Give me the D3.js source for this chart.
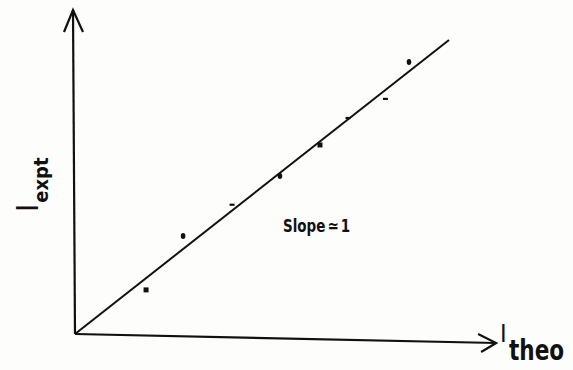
<!DOCTYPE html>
<html>
<head>
<meta charset="utf-8">
<script src="https://cdn.jsdelivr.net/npm/d3@7"></script>
<style>
  html, body { margin: 0; padding: 0; background: #fdfdfc; }
  svg { display: block; }
</style>
</head>
<body>
<svg id="chart" width="573" height="370"></svg>
<script>
// Data (normalised units: theoretical vs experimental intensity)
const theoValues = [0.19, 0.289, 0.42, 0.548, 0.655, 0.73, 0.83, 0.893];
const exptValues = [0.15, 0.333, 0.44, 0.537, 0.643, 0.735, 0.80, 0.925];
const markerShapes = ["square", "dot", "dash", "dot", "square", "dash", "dash", "dot"];
const fitLine = [0, 1];           // slope = 1 line from origin
const axisLabels = { x: "theo", y: "expt", base: "I" };
const annotation = "Slope";

const svg = d3.select("#chart");
const W = 573, H = 370;
svg.append("rect").attr("width", W).attr("height", H).attr("fill", "#fdfdfc");

const x = d3.scaleLinear().domain([0, 1]).range([75, 449]);
const y = d3.scaleLinear().domain([0, 1]).range([334, 40]);

const axisX = 1.126, axisY = 1.102;
const ink = "#111";

// Axes (slightly skewed like the scanned original)
svg.append("line")
  .attr("x1", x(0)).attr("y1", y(0))
  .attr("x2", x(axisX)).attr("y2", y(0) + 9)
  .attr("stroke", ink).attr("stroke-width", 2.2);
svg.append("line")
  .attr("x1", x(0)).attr("y1", y(0))
  .attr("x2", x(0) - 2).attr("y2", y(axisY))
  .attr("stroke", ink).attr("stroke-width", 2.2);

// Arrowheads
const yTipX = x(0) - 2, yTipY = y(axisY);
svg.append("path")
  .attr("d", `M${yTipX - 9},${yTipY + 22} L${yTipX},${yTipY} L${yTipX + 10},${yTipY + 22}`)
  .attr("fill", "none").attr("stroke", ink).attr("stroke-width", 2.2)
  .attr("stroke-linejoin", "miter");
const xTipX = x(axisX), xTipY = y(0) + 9;
svg.append("path")
  .attr("d", `M${xTipX - 18},${xTipY - 9} L${xTipX},${xTipY} L${xTipX - 15},${xTipY + 9}`)
  .attr("fill", "none").attr("stroke", ink).attr("stroke-width", 2.2)
  .attr("stroke-linejoin", "miter");

// Fit line
svg.append("line")
  .attr("x1", x(fitLine[0])).attr("y1", y(fitLine[0]))
  .attr("x2", x(fitLine[1])).attr("y2", y(fitLine[1]))
  .attr("stroke", ink).attr("stroke-width", 2);

// Data points
const pts = theoValues.map((t, i) => ({ t, e: exptValues[i], s: markerShapes[i] }));
svg.selectAll("g.pt").data(pts).enter().append("g").attr("class", "pt")
  .each(function(d) {
    const g = d3.select(this);
    const cx = x(d.t), cy = y(d.e);
    if (d.s === "square") {
      g.append("rect").attr("x", cx - 2.5).attr("y", cy - 2.5).attr("width", 5).attr("height", 5).attr("fill", ink);
    } else if (d.s === "dot") {
      g.append("ellipse").attr("cx", cx).attr("cy", cy).attr("rx", 2.3).attr("ry", 3).attr("fill", ink);
    } else {
      g.append("rect").attr("x", cx - 2.5).attr("y", cy - 1).attr("width", 5).attr("height", 2.2).attr("fill", ink);
    }
  });

// Y label
const yl = svg.append("text")
  .attr("transform", "translate(38,212) rotate(-90)")
  .attr("font-family", "'DejaVu Sans Condensed', 'DejaVu Sans', sans-serif")
  .attr("fill", ink);
yl.append("tspan").attr("font-size", 31).text(axisLabels.base);
yl.append("tspan").attr("font-size", 20).attr("font-weight", "bold").attr("dy", 10).attr("dx", 1).text(axisLabels.y);

// X label
svg.append("text")
  .attr("x", 500).attr("y", 342)
  .attr("font-family", "'DejaVu Sans Condensed', 'DejaVu Sans', sans-serif")
  .attr("font-size", 25).attr("fill", ink)
  .text(axisLabels.base);
svg.append("text")
  .attr("transform", "translate(509,360) scale(1,1.15)")
  .attr("font-family", "'DejaVu Sans Condensed', 'DejaVu Sans', sans-serif")
  .attr("font-size", 24).attr("font-weight", "bold").attr("fill", ink)
  .text(axisLabels.x);

// Annotation
const an = svg.append("text")
  .attr("transform", "translate(283,232) scale(1,1.2)")
  .attr("font-family", "'DejaVu Sans Condensed', 'DejaVu Sans', sans-serif")
  .attr("font-size", 15).attr("font-weight", "bold").attr("fill", ink);
an.append("tspan").text(annotation);
an.append("tspan").attr("dx", 2).text("\u2243");
an.append("tspan").attr("dx", 2).text("1");
</script>
</body>
</html>
